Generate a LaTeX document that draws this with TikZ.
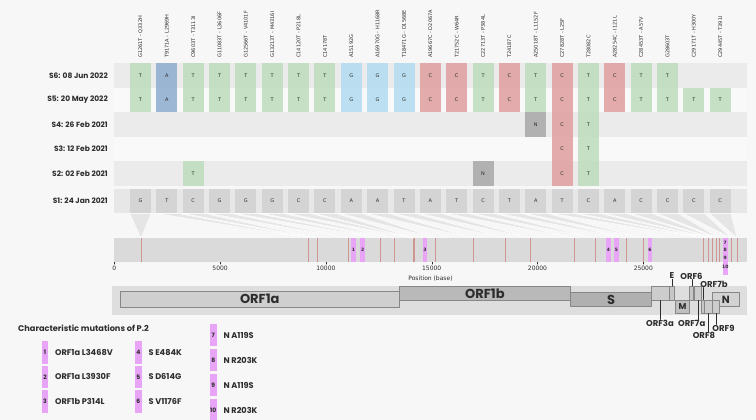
\documentclass[tikz,border=0pt]{standalone}
\usepackage{fontspec}
\setmainfont{Poppins}
\newfontfamily\plotfont{DejaVu Sans}
\usetikzlibrary{positioning}
\definecolor{paper}{RGB}{247,247,247}
\definecolor{band_dark}{RGB}{235,235,235}
\definecolor{band_light}{RGB}{249,249,249}
\definecolor{ref_band}{RGB}{231,231,231}
\definecolor{ref_cell}{RGB}{212,212,212}
\definecolor{mut_green}{RGB}{188,220,188}
\definecolor{mut_blue}{RGB}{140,172,205}
\definecolor{mut_sky}{RGB}{178,220,240}
\definecolor{mut_red}{RGB}{224,158,158}
\definecolor{mut_n}{RGB}{168,168,168}
\definecolor{p2_pink}{RGB}{232,164,246}
\definecolor{site_red}{RGB}{205,150,145}
\definecolor{genome_grey}{RGB}{218,218,218}
\definecolor{gene_band}{RGB}{222,222,222}
\definecolor{gene_edge}{RGB}{135,135,135}
\definecolor{ink}{RGB}{45,45,45}
\tikzset{
  cell/.style={rectangle,inner sep=0pt,minimum width=21pt,minimum height=24.4pt,
    font=\plotfont\fontsize{5}{6}\selectfont,text=ink},
  rowlab/.style={anchor=east,inner sep=0pt,font=\bfseries\fontsize{7.5}{9}\selectfont,text=ink},
  collab/.style={rotate=90,anchor=west,inner sep=0pt,font=\plotfont\fontsize{5}{6}\selectfont,text=ink},
  funnel/.style={fill=gray!20,draw=white,line width=0.45pt},
  site/.style={draw=site_red,line width=0.7pt},
  hl/.style={rectangle,fill=p2_pink,inner sep=0pt,minimum width=4.6pt,minimum height=23.4pt,
    font=\plotfont\bfseries\fontsize{4.5}{5}\selectfont,text=ink},
  hlnum/.style={inner sep=0pt,font=\plotfont\bfseries\fontsize{4.5}{5}\selectfont,text=ink},
  ticklab/.style={inner sep=0pt,font=\plotfont\fontsize{6}{7}\selectfont,text=ink},
  genebox/.style={rectangle,draw=gene_edge,line width=0.8pt,inner sep=0pt},
  biglab/.style={inner sep=0pt,font=\bfseries\fontsize{13}{15}\selectfont,text=ink},
  smallgene/.style={inner sep=0pt,font=\fontsize{8.5}{10}\selectfont\bfseries,text=ink},
  leader/.style={draw=ink,line width=0.5pt},
  legbox/.style={rectangle,fill=p2_pink,inner sep=0pt,minimum width=6.6pt,minimum height=22.5pt,
    font=\bfseries\fontsize{6}{7}\selectfont,text=ink},
  legtext/.style={anchor=west,inner sep=0pt,font=\bfseries\fontsize{8.2}{10}\selectfont,text=ink}
}
% positions in kb: x = 114.3 + 21.16*kb
\newcommand\genebox[6]{%
  \node[genebox,fill=#6,minimum width={(#3-#2)*21.16},minimum height={#5-#4}]
    (#1) at ({114.3+21.16*(#2+#3)/2},{(#4+#5)/2}) {};}

\begin{document}
\begin{tikzpicture}[x=1pt,y=-1pt,line join=round,line cap=round]
\fill[paper] (0,0) rectangle (756,420);
\useasboundingbox (0,0) rectangle (756,420);

\foreach \t/\f in {63.5/band_dark,87.9/band_light,112.3/band_dark,136.7/band_light,161.1/band_dark}
  \fill[\f] (114,\t) rectangle (747,\t+24.4);
\fill[ref_band] (114,189) rectangle (747,213);
\node[rowlab] (s6) at (108,75.7) {S6: 08 Jun 2022};
\node[rowlab] (s5) at (108,100.1) {S5: 20 May 2022};
\node[rowlab] (s4) at (108,124.5) {S4: 26 Feb 2021};
\node[rowlab] (s3) at (108,148.9) {S3: 12 Feb 2021};
\node[rowlab] (s2) at (108,173.3) {S2: 02 Feb 2021};
\node[rowlab] (s1) at (108,201) {S1: 24 Jan 2021};

% genome track
\fill[genome_grey] (114.3,238.3) rectangle (746.7,261.7);
\foreach \c/\p/\b/\name in {1/1.261/G/{G1261T - Q332H},2/9.171/T/{T9171A - L2969H},
  3/9.603/C/{C9603T - T3113I},4/11.083/G/{G11083T - L3606F},5/12.566/G/{G12566T - V4101F},
  6/13.213/G/{G13213T - M4316I},7/14.120/C/{C14120T - P218L},8/14.178/C/{C14178T},
  9/15.192/A/{A15192G},10/16.970/A/{A16970G - H1168R},11/18.471/T/{T18471G - D1568E},
  12/19.667/A/{A19667C - D2067A},13/21.752/T/{T21752C - W64R},14/22.713/C/{C22713T - P384L},
  15/24.187/T/{T24187C},16/25.018/A/{A25018T - L1152F},17/27.828/T/{C27828T - L25F},
  18/28.082/C/{T28082C},19/28.254/A/{A28254C - I121L},20/28.453/C/{C28453T - A57V},
  21/28.603/C/{G28603T},22/29.171/C/{C29171T - H300Y},23/29.445/C/{C29445T - T391I}}
{
  \pgfmathsetmacro\x{140.5+26.35*(\c-1)}
  \coordinate (g\c) at ({114.3+21.16*\p},238.3);
  \node[collab] (m\c) at (\x,58) {\name};
  \node[cell,fill=ref_cell] (r1c\c) at (\x,201) {\b};
  \filldraw[funnel] (r1c\c.south west) -- (r1c\c.south east) -- (g\c) -- cycle;
  \draw[site] (g\c) -- ++(0,23.4);
}

% mutated bases
\foreach \c/\l/\f in {1/T/mut_green,2/A/mut_blue,3/T/mut_green,4/T/mut_green,5/T/mut_green,
  6/T/mut_green,7/T/mut_green,8/T/mut_green,9/G/mut_sky,10/G/mut_sky,11/G/mut_sky,
  12/C/mut_red,13/C/mut_red,14/T/mut_green,15/C/mut_red,16/T/mut_green,17/C/mut_red,
  18/T/mut_green,19/C/mut_red,20/T/mut_green,21/T/mut_green}
{
  \pgfmathsetmacro\x{140.5+26.35*(\c-1)}
  \node[cell,fill=\f,fill opacity=0.85,text opacity=1] (r6c\c) at (\x,75.7) {\l};
  \node[cell,fill=\f,fill opacity=0.85,text opacity=1] (r5c\c) at (\x,100.1) {\l};
}
\foreach \c in {22,23}
{
  \pgfmathsetmacro\x{140.5+26.35*(\c-1)}
  \node[cell,fill=mut_green,fill opacity=0.85,text opacity=1] (r5c\c) at (\x,100.1) {T};
}
\foreach \r/\y/\c/\l/\f in {4/124.5/16/N/mut_n,4/124.5/17/C/mut_red,4/124.5/18/T/mut_green,
  3/148.9/17/C/mut_red,3/148.9/18/T/mut_green,
  2/173.3/3/T/mut_green,2/173.3/14/N/mut_n,2/173.3/17/C/mut_red,2/173.3/18/T/mut_green}
{
  \pgfmathsetmacro\x{140.5+26.35*(\c-1)}
  \node[cell,fill=\f,fill opacity=0.85,text opacity=1] (r\r c\c) at (\x,\y) {\l};
}

% P.2 sites
\foreach \n/\p in {1/11.300,2/11.740,3/14.680,4/23.350,5/23.730,6/25.310}
  \node[hl] (h\n) at ({114.3+21.16*\p},250) {\n};
\fill[p2_pink] (722.6,238.3) rectangle (728,274.5);
\foreach \n/\y in {7/242.7,8/250,9/258.3,10/266.6}
  \node[hlnum] (h\n) at (725.3,\y) {\n};

\foreach \v in {0,5,10,15,20,25}
{
  \draw[draw=ink,line width=0.4pt] ({114.3+21.16*\v},262.2) -- ++(0,2);
  \node[ticklab] (t\v) at ({114.3+21.16*\v},268.6) {\ifnum\v=0 0\else\v000\fi};
}
\node[ticklab] (poslab) at (430.5,278.6) {Position (base)};

% genes
\fill[gene_band] (112,286) rectangle (747,315);
\genebox{orf1a}{0.266}{13.483}{291.5}{307}{gray!38}
\genebox{orf1b}{13.468}{21.555}{286.5}{300.5}{gray!55}
\genebox{spike}{21.563}{25.384}{292.5}{306.5}{gray!62}
\genebox{orf3a}{25.393}{26.220}{286.5}{300}{gray!40}
\genebox{envl}{26.245}{26.472}{286.5}{300}{gray!45}
\genebox{memb}{26.523}{27.191}{300}{313}{gray!50}
\genebox{orf6}{27.202}{27.387}{286.5}{300}{gray!45}
\genebox{orf7a}{27.394}{27.759}{286.5}{300}{gray!40}
\genebox{nucl}{28.274}{29.533}{292.5}{306.5}{gray!35}
\genebox{orf7b}{27.756}{27.887}{300}{313}{gray!45}
\genebox{orf8}{27.894}{28.259}{300}{313}{gray!40}
\genebox{orf9}{28.284}{28.577}{300}{313}{gray!40}
\node[biglab] (l1a) at (orf1a) {ORF1a};
\node[biglab] (l1b) at (orf1b) {ORF1b};
\node[biglab] (ls) at (spike) {S};
\node[smallgene] (lm) at (memb) {M};
\node[biglab,font=\bfseries\fontsize{10.5}{12}\selectfont] (ln) at (nucl) {N};

\node[smallgene] (le) at (672,276) {E};
\node[smallgene] (l6) at (691.5,276) {ORF6};
\node[smallgene] (l7b) at (714,284) {ORF7b};
\node[smallgene] (l3a) at (660,323) {ORF3a};
\node[smallgene] (l7a) at (691.7,323) {ORF7a};
\node[smallgene] (l8) at (704,335.5) {ORF8};
\node[smallgene] (l9) at (723.5,328) {ORF9};
\draw[leader] (envl.north) -- (envl.north |- le.south);
\draw[leader] (orf6.north) -- (orf6.north |- l6.south);
\draw[leader] (orf7b.north) -- (orf7b.north |- l7b.south);
\draw[leader] (orf3a.south) -- (orf3a.south |- l3a.north);
\draw[leader] (orf7a.south) -- (orf7a.south |- l7a.north);
\draw[leader] (orf8.south) -- (orf8.south |- l8.north);
\draw[leader] (orf9.south) -- (orf9.south |- l9.north);

% legend
\node[legtext] (legtitle) at (18,328) {Characteristic mutations of P.2};
\foreach \n/\x/\y/\t in {1/45/352.5/{ORF1a L3468V},2/45/376.9/{ORF1a L3930F},3/45/401.3/{ORF1b P314L},
  4/138.3/352.5/{S E484K},5/138.3/376.9/{S D614G},6/138.3/401.3/{S V1176F},
  7/213.3/335/{N A119S},8/213.3/360/{N R203K},9/213.3/385/{N A119S},10/213.3/410/{N R203K}}
{
  \node[legbox] (k\n) at (\x,\y) {\n};
  \node[legtext] (kt\n) at (\x+10,\y) {\t};
}
\end{tikzpicture}
\end{document}
